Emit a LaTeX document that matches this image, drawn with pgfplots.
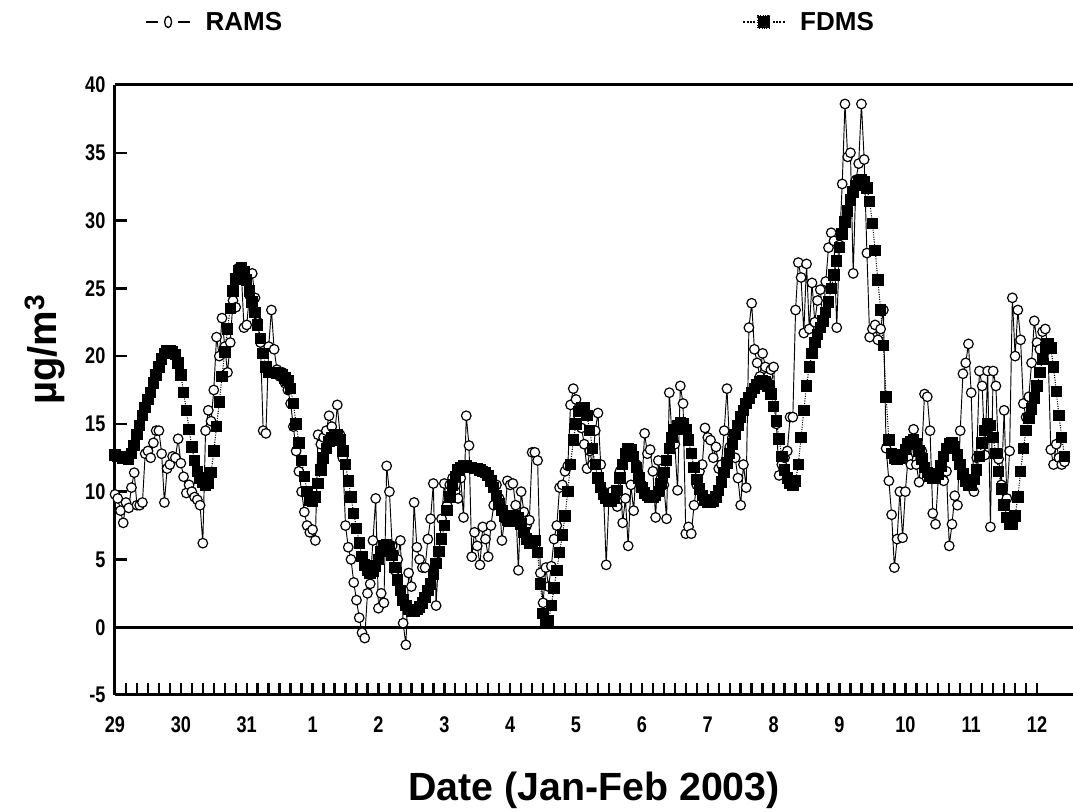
\documentclass[border=0pt]{standalone}
\usepackage{fontspec}
\setmainfont{Liberation Sans}
\newfontfamily\narrowfont[FakeStretch=0.8]{Liberation Sans}
\usepackage{pgfplots}
\pgfplotsset{compat=1.18}
\begin{document}
\begin{tikzpicture}
\begin{axis}[
  scale only axis, width=718.5pt, height=457.5pt,
  at={(0,0)}, anchor=south west,
  xmin=0, xmax=349.1, ymin=-5, ymax=40,
  axis x line*=box, axis y line*=left,
  xtick pos=bottom, ytick pos=left,
  xtick={0,24,...,336},
  xticklabels={29,30,31,1,2,3,4,5,6,7,8,9,10,11,12},
  minor x tick num=5,
  ytick={-5,0,...,40},
  yticklabels={-5,0,5,10,15,20,25,30,35,40},
  tick align=inside,
  major tick length=9pt, minor tick length=9pt,
  every tick/.style={line width=1.8pt, black},
  axis line style={-, line width=2.25pt},
  x axis line style={-}, y axis line style={-},
  xticklabel style={font=\narrowfont\bfseries\fontsize{17}{17}\selectfont, anchor=center, inner sep=0pt, yshift=-22.5pt},
  yticklabel style={font=\narrowfont\bfseries\fontsize{17}{17}\selectfont, anchor=east, inner sep=0pt, xshift=-7pt},
  xlabel={Date (Jan-Feb 2003)},
  xlabel style={font=\bfseries\fontsize{29.5}{29.5}\selectfont, at={(rel axis cs:0.5,-0.1557)}, anchor=center},
  ylabel={µg/m\textsuperscript{3}},
  ylabel style={font=\bfseries\fontsize{30}{30}\selectfont, at={(rel axis cs:-0.0731,0.566)}, anchor=center},
  legend style={at={(rel axis cs:0.0313,1.1033)}, anchor=west, draw=none, fill=none,
    legend columns=2, font=\bfseries\fontsize{19.5}{19.5}\selectfont, inner sep=0pt,
    /tikz/every even column/.append style={column sep=343pt},
    /tikz/every odd column/.append style={column sep=9pt}},
  clip=false,
]
\addplot[black, line width=0.7pt, mark=*, mark size=3.6pt, mark options={solid, fill=white, draw=black, line width=0.9pt},
  legend image code/.code={
    \draw[line width=1.3pt] (0pt,0pt)--(9pt,0pt);
    \draw[line width=1pt, fill=white] (16.5pt,0pt) ellipse (2.6pt and 4.2pt);
    \draw[line width=1.3pt] (24pt,0pt)--(33pt,0pt);}]
coordinates {
(0,9.8)(1,9.5)(2,8.6)(3,7.7)(4,9.2)(5,8.8)(6,10.3)(7,11.4)(8,9.0)(9,9.0)
(10,9.2)(11,12.8)(12,13.0)(13,12.5)(14,13.6)(15,14.5)(16,14.5)(17,12.8)(18,9.2)(19,11.7)
(20,12.0)(21,12.6)(22,12.5)(23,13.9)(24,12.1)(25,11.1)(26,9.9)(27,10.5)(28,10.0)(29,9.6)
(30,9.4)(31,9.0)(32,6.2)(33,14.5)(34,16.0)(35,15.2)(36,17.5)(37,21.4)(38,20.0)(39,22.8)
(40,20.7)(41,18.8)(42,21.0)(43,24.1)(44,23.6)(45,26.5)(46,26.3)(47,22.1)(48,22.3)(49,24.5)
(50,26.1)(51,24.3)(52,22.5)(53,21.0)(54,14.5)(55,14.3)(56,20.7)(57,23.4)(58,20.5)(59,19.0)
(60,18.5)(61,18.8)(62,18.0)(63,17.5)(64,16.5)(65,14.8)(66,13.0)(67,11.5)(68,10.0)(69,8.5)
(70,7.5)(71,7.0)(72,7.2)(73,6.4)(74,14.2)(75,13.5)(76,14.0)(77,14.5)(78,15.6)(79,14.8)
(80,14.0)(81,16.4)(82,14.2)(83,12.5)(84,7.5)(85,5.9)(86,5.0)(87,3.3)(88,2.0)(89,0.7)
(90,-0.4)(91,-0.8)(92,2.5)(93,3.2)(94,6.4)(95,9.5)(96,1.4)(97,2.5)(98,1.8)(99,11.9)
(100,10.0)(101,6.0)(102,4.2)(103,5.0)(104,6.4)(105,0.3)(106,-1.3)(107,4.0)(108,3.0)(109,9.2)
(110,5.9)(111,5.0)(112,4.4)(113,4.4)(114,6.5)(115,8.0)(116,10.6)(117,1.6)(118,5.5)(119,8.0)
(120,10.6)(121,9.0)(122,10.5)(123,11.0)(124,10.0)(125,9.5)(126,11.0)(127,8.1)(128,15.6)(129,13.4)
(130,5.2)(131,7.0)(132,6.0)(133,4.6)(134,7.4)(135,6.5)(136,5.2)(137,7.5)(138,9.0)(139,10.5)
(140,9.5)(141,6.4)(142,8.0)(143,10.8)(144,10.5)(145,10.6)(146,9.0)(147,4.2)(148,10.0)(149,8.5)
(150,7.5)(151,7.9)(152,12.9)(153,12.9)(154,12.3)(155,4.0)(156,1.8)(157,4.4)(158,3.0)(159,4.5)
(160,6.5)(161,7.5)(162,10.3)(163,10.5)(164,11.5)(165,11.9)(166,16.4)(167,17.6)(168,16.8)(169,15.5)
(170,14.7)(171,13.5)(172,11.7)(173,13.0)(174,12.0)(175,14.5)(176,15.8)(177,12.0)(178,10.0)(179,4.6)
(180,9.5)(181,10.0)(182,9.5)(183,8.9)(184,11.5)(185,7.7)(186,9.5)(187,6.0)(188,10.5)(189,8.6)
(190,12.0)(191,11.0)(192,10.5)(193,14.3)(194,12.8)(195,13.1)(196,11.5)(197,8.1)(198,12.3)(199,11.0)
(200,10.5)(201,8.0)(202,17.3)(203,14.0)(204,13.5)(205,10.1)(206,17.8)(207,16.5)(208,6.9)(209,7.4)
(210,6.9)(211,9.0)(212,10.5)(213,11.5)(214,12.0)(215,14.7)(216,14.0)(217,13.8)(218,12.5)(219,13.3)
(220,11.7)(221,12.0)(222,14.5)(223,17.6)(224,13.3)(225,14.0)(226,12.5)(227,11.0)(228,9.0)(229,12.0)
(230,10.3)(231,22.1)(232,23.9)(233,20.5)(234,19.5)(235,18.5)(236,20.2)(237,19.2)(238,18.5)(239,19.0)
(240,19.2)(241,15.0)(242,11.2)(243,12.0)(244,12.5)(245,13.0)(246,15.5)(247,15.5)(248,23.4)(249,26.9)
(250,25.8)(251,21.7)(252,26.8)(253,22.0)(254,25.4)(255,22.5)(256,24.1)(257,24.9)(258,22.6)(259,25.5)
(260,28.0)(261,29.1)(262,28.5)(263,22.1)(264,28.2)(265,32.7)(266,38.6)(267,34.7)(268,35.0)(269,26.1)
(270,33.0)(271,34.2)(272,38.6)(273,34.5)(274,27.6)(275,21.4)(276,22.0)(277,22.3)(278,21.2)(279,22.0)
(280,23.4)(281,13.2)(282,10.8)(283,8.3)(284,4.4)(285,6.5)(286,10.0)(287,6.6)(288,10.0)(289,12.5)
(290,12.0)(291,14.6)(292,12.0)(293,10.7)(294,13.0)(295,17.2)(296,17.0)(297,14.5)(298,8.4)(299,7.6)
(300,11.0)(301,12.0)(302,10.8)(303,11.5)(304,6.0)(305,7.6)(306,9.7)(307,9.0)(308,14.5)(309,18.7)
(310,19.5)(311,20.9)(312,17.3)(313,10.0)(314,12.5)(315,18.9)(316,17.8)(317,12.7)(318,18.9)(319,7.4)
(320,18.9)(321,17.8)(322,12.4)(323,10.5)(324,16.0)(325,9.5)(326,13.0)(327,24.3)(328,20.0)(329,23.4)
(330,21.2)(331,16.5)(332,15.5)(333,17.0)(334,19.5)(335,22.6)(336,21.0)(337,20.5)(338,21.8)(339,22.0)
(340,20.5)(341,13.1)(342,12.0)(343,13.5)(344,12.5)(345,12.0)(346,12.2)
};
\addlegendentry{RAMS}
\addplot[black, densely dotted, line width=0.8pt, mark=square*, mark size=3.9pt, mark options={solid, fill=black, draw=black},
  legend image code/.code={
    \draw[densely dotted, line width=1.5pt] (0pt,0pt)--(9pt,0pt);
    \fill (11pt,-4.5pt) rectangle (20pt,4.5pt);
    \draw[densely dotted, line width=1.5pt] (22pt,0pt)--(31pt,0pt);}]
coordinates {
(0,12.7)(1,12.6)(2,12.6)(3,12.5)(4,12.5)(5,12.4)(6,12.8)(7,13.4)(8,14.2)(9,14.9)
(10,15.6)(11,16.2)(12,16.8)(13,17.3)(14,18.0)(15,18.6)(16,19.2)(17,19.8)(18,20.2)(19,20.4)
(20,20.4)(21,20.3)(22,20.1)(23,19.5)(24,18.6)(25,17.3)(26,16.0)(27,14.6)(28,13.3)(29,12.3)
(30,11.5)(31,11.0)(32,10.7)(33,10.5)(34,10.6)(35,11.4)(36,13.0)(37,14.8)(38,16.6)(39,18.5)
(40,20.3)(41,22.0)(42,23.5)(43,24.8)(44,25.7)(45,26.3)(46,26.5)(47,26.2)(48,25.6)(49,24.8)
(50,24.0)(51,23.2)(52,22.3)(53,21.3)(54,20.2)(55,19.2)(56,18.8)(57,18.8)(58,18.8)(59,18.7)
(60,18.7)(61,18.6)(62,18.4)(63,18.2)(64,17.6)(65,16.5)(66,15.0)(67,13.6)(68,12.3)(69,11.1)
(70,10.0)(71,9.4)(72,9.3)(73,9.6)(74,10.6)(75,11.6)(76,12.5)(77,13.2)(78,13.7)(79,14.0)
(80,14.2)(81,14.2)(82,13.8)(83,13.0)(84,12.0)(85,10.8)(86,9.6)(87,8.4)(88,7.3)(89,6.2)
(90,5.2)(91,4.6)(92,4.2)(93,4.0)(94,4.1)(95,4.5)(96,5.0)(97,5.6)(98,6.0)(99,6.1)
(100,5.9)(101,5.3)(102,4.4)(103,3.5)(104,2.7)(105,2.0)(106,1.6)(107,1.3)(108,1.2)(109,1.2)
(110,1.3)(111,1.5)(112,1.8)(113,2.2)(114,2.7)(115,3.2)(116,3.9)(117,4.7)(118,5.6)(119,6.5)
(120,7.5)(121,8.6)(122,9.6)(123,10.5)(124,11.1)(125,11.6)(126,11.8)(127,11.9)(128,11.9)(129,11.8)
(130,11.8)(131,11.7)(132,11.7)(133,11.6)(134,11.5)(135,11.4)(136,11.2)(137,10.8)(138,10.3)(139,9.7)
(140,9.1)(141,8.6)(142,8.2)(143,7.9)(144,7.8)(145,8.0)(146,8.2)(147,8.1)(148,7.6)(149,7.0)
(150,6.5)(151,6.2)(152,6.2)(153,6.4)(154,5.5)(155,3.2)(156,1.0)(157,0.3)(158,0.5)(159,1.6)
(160,2.9)(161,4.2)(162,5.5)(163,6.8)(164,8.2)(165,10.0)(166,12.0)(167,13.8)(168,15.0)(169,15.9)
(170,16.2)(171,16.2)(172,15.6)(173,14.5)(174,13.2)(175,12.0)(176,11.0)(177,10.3)(178,9.8)(179,9.5)
(180,9.3)(181,9.3)(182,9.5)(183,10.1)(184,11.0)(185,12.0)(186,12.8)(187,13.2)(188,13.1)(189,12.6)
(190,11.8)(191,11.0)(192,10.3)(193,9.9)(194,9.7)(195,9.6)(196,9.6)(197,9.7)(198,10.0)(199,10.6)
(200,11.4)(201,12.3)(202,13.2)(203,14.0)(204,14.6)(205,14.9)(206,15.1)(207,15.0)(208,14.6)(209,13.8)
(210,12.8)(211,11.8)(212,10.9)(213,10.2)(214,9.7)(215,9.4)(216,9.2)(217,9.2)(218,9.3)(219,9.6)
(220,10.1)(221,10.7)(222,11.4)(223,12.1)(224,12.8)(225,13.5)(226,14.2)(227,14.9)(228,15.5)(229,16.0)
(230,16.5)(231,16.9)(232,17.3)(233,17.6)(234,17.9)(235,18.1)(236,18.2)(237,18.1)(238,17.8)(239,17.2)
(240,16.3)(241,15.2)(242,13.9)(243,12.6)(244,11.6)(245,11.0)(246,10.6)(247,10.5)(248,10.8)(249,12.0)
(250,14.0)(251,16.0)(252,17.8)(253,19.2)(254,20.2)(255,21.0)(256,21.6)(257,22.1)(258,22.6)(259,23.2)
(260,24.0)(261,25.0)(262,26.0)(263,27.0)(264,28.0)(265,29.0)(266,29.9)(267,30.7)(268,31.5)(269,32.1)
(270,32.6)(271,32.9)(272,33.0)(273,32.9)(274,32.4)(275,31.4)(276,29.8)(277,27.8)(278,25.6)(279,23.4)
(280,20.8)(281,17.0)(282,13.8)(283,12.8)(284,12.5)(285,12.4)(286,12.5)(287,12.7)(288,13.1)(289,13.5)
(290,13.7)(291,13.8)(292,13.5)(293,13.0)(294,12.4)(295,11.8)(296,11.4)(297,11.1)(298,11.0)(299,11.0)
(300,11.3)(301,11.9)(302,12.6)(303,13.2)(304,13.5)(305,13.6)(306,13.3)(307,12.7)(308,12.0)(309,11.3)
(310,10.8)(311,10.5)(312,10.5)(313,10.9)(314,11.6)(315,12.6)(316,13.6)(317,14.5)(318,15.0)(319,14.9)
(320,14.0)(321,12.8)(322,11.5)(323,10.2)(324,9.0)(325,8.1)(326,7.6)(327,7.6)(328,8.2)(329,9.6)
(330,11.5)(331,13.2)(332,14.5)(333,15.4)(334,16.1)(335,16.9)(336,17.8)(337,18.8)(338,19.8)(339,20.6)
(340,20.9)(341,20.6)(342,19.2)(343,17.4)(344,15.6)(345,14.0)(346,12.6)
};
\addlegendentry{FDMS}
\addplot[black, line width=2pt, forget plot] coordinates {(0,0) (349.1,0)};
\end{axis}
\pgfresetboundingbox
\useasboundingbox (-86.25pt,-87.75pt) rectangle (718.5pt,521.25pt);
\end{tikzpicture}
\end{document}
